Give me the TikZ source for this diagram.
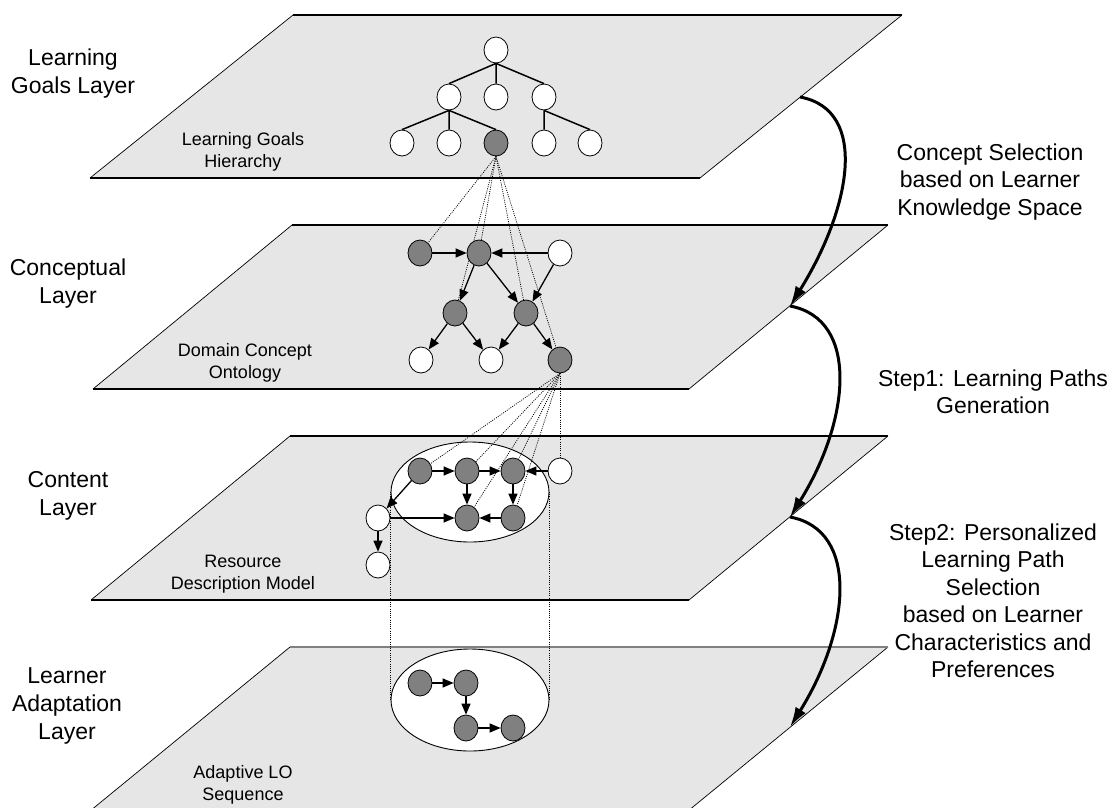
\documentclass[tikz,border=0pt]{standalone}
\usepackage{fontspec}
\setmainfont{Liberation Sans}
\usetikzlibrary{shapes.geometric,arrows.meta}
\definecolor{layerfill}{RGB}{230,230,230}
\definecolor{nodegray}{RGB}{128,128,128}
\pgfdeclarelayer{back}
\pgfdeclarelayer{mid}
\pgfsetlayers{back,mid,main}
\begin{document}
\begin{tikzpicture}[x=1pt,y=-1pt,
  planefill/.style={fill=layerfill},
  planeside/.style={line width=0.7pt},
  planeedge/.style={line width=1.3pt},
  goal/.style={ellipse,draw,line width=0.8pt,fill=white,minimum width=24pt,minimum height=26pt,inner sep=0pt},
  hot/.style={goal,fill=nodegray},
  tree/.style={line width=1.5pt},
  link/.style={line width=1.3pt,-{Triangle[length=11pt,width=9pt]}},
  trace/.style={line width=0.75pt,dash pattern=on 1pt off 1.2pt},
  group/.style={ellipse,draw,line width=0.9pt,fill=white,inner sep=0pt},
  flow/.style={line width=3pt,-{Latex[length=20pt,width=12pt]}},
  biglabel/.style={font=\fontsize{23}{28}\selectfont,align=center,inner sep=0pt},
  sidelabel/.style={font=\fontsize{23}{27.5}\selectfont,align=center,inner sep=0pt},
  smalllabel/.style={font=\fontsize{18}{22}\selectfont,align=center,inner sep=0pt}
]
\useasboundingbox (0,0) rectangle (1112,807);

% ---- the four planes ----
\coordinate (p1a) at (293,15);  \coordinate (p1b) at (902,15);
\coordinate (p1c) at (700,178); \coordinate (p1d) at (90,178);
\coordinate (p2a) at (292,225); \coordinate (p2b) at (888,225);
\coordinate (p2c) at (689,389); \coordinate (p2d) at (93,389);
\coordinate (p3a) at (290,436); \coordinate (p3b) at (888,436);
\coordinate (p3c) at (689,600); \coordinate (p3d) at (91,600);
\coordinate (p4a) at (290,647); \coordinate (p4b) at (888,647);
\coordinate (p4c) at (688,811); \coordinate (p4d) at (90,811);

\begin{pgfonlayer}{back}
\foreach \k in {1,2,3}{
  \fill[planefill] (p\k a) -- (p\k b) -- (p\k c) -- (p\k d) -- cycle;
  \draw[planeside] (p\k a) -- (p\k d) (p\k b) -- (p\k c);
  \draw[planeedge] (p\k a) -- (p\k b) (p\k d) -- (p\k c);
}
\fill[planefill] (p4a) -- (p4b) -- (p4c) -- (p4d) -- cycle;
\draw[planeside] (p4a) -- (p4d) (p4b) -- (p4c);
\draw[planeedge,draw=nodegray] (p4a) -- (p4b);

% groups of learning objects
\node[group,minimum width=158pt,minimum height=100pt] (E3) at (470,492) {};
\node[group,minimum width=158pt,minimum height=102pt] (E4) at (470,700) {};
\end{pgfonlayer}

% ---- labels ----
\node[biglabel] (lab1) at (73,74) {Learning\\Goals Layer};
\node[biglabel] (lab2) at (68,284) {Conceptual\\Layer};
\node[biglabel] (lab3) at (68,496) {Content\\Layer};
\node[biglabel] (lab4) at (67,706) {Learner\\Adaptation\\Layer};

\node[smalllabel] (sub1) at (243,152) {Learning Goals\\Hierarchy};
\node[smalllabel] (sub2) at (245,363) {Domain Concept\\Ontology};
\node[smalllabel] (sub3) at (243,574) {Resource\\Description Model};
\node[smalllabel] (sub4) at (243,785) {Adaptive LO\\Sequence};

\node[sidelabel] (step0) at (990,182) {Concept Selection\\based on Learner\\Knowledge Space};
\node[sidelabel] (step1) at (993,392) {Step1: Learning Paths\\Generation};
\node[sidelabel] (step2) at (993,601) {Step2: Personalized\\Learning Path\\Selection\\based on Learner\\Characteristics and\\Preferences};

% ---- learning goals hierarchy ----
\node[goal] (g0) at (496,50) {};
\node[goal] (g1) at (449,97) {};
\node[goal] (g2) at (496,97) {};
\node[goal] (g3) at (544,97) {};
\node[goal] (g4) at (402,143) {};
\node[goal] (g5) at (449,143) {};
\node[hot]  (g6) at (496,143) {};
\node[goal] (g7) at (544,143) {};
\node[goal] (g8) at (590,143) {};
\draw[tree] (g0.south) -- (g1.north) (g0.south) -- (g2.north) (g0.south) -- (g3.north);
\draw[tree] (g1.south) -- (g4.north) (g1.south) -- (g5.north) (g1.south) -- (g6.north);
\draw[tree] (g3.south) -- (g7.north) (g3.south) -- (g8.north);

% ---- domain concept ontology ----
\node[hot]  (c1) at (420,253) {};
\node[hot]  (c2) at (479,253) {};
\node[goal] (c3) at (560,253) {};
\node[hot]  (c4) at (455,313) {};
\node[hot]  (c5) at (526,313) {};
\node[goal] (c6) at (421,360) {};
\node[goal] (c7) at (491,360) {};
\node[hot]  (c8) at (560,360) {};
\draw[link] (c1) -- (c2);
\draw[link] (c3) -- (c2);
\draw[link] (c2) -- (c4);
\draw[link] (c2) -- (c5);
\draw[link] (c3) -- (c5);
\draw[link] (c4) -- (c6);
\draw[link] (c4) -- (c7);
\draw[link] (c5) -- (c7);
\draw[link] (c5) -- (c8);

% ---- resource description model ----
\node[hot]  (e1) at (420,471) {};
\node[hot]  (e2) at (467,471) {};
\node[hot]  (e3) at (513,471) {};
\node[goal] (e4) at (560,471) {};
\node[goal] (e5) at (378,518) {};
\node[hot]  (e6) at (467,518) {};
\node[hot]  (e7) at (513,518) {};
\node[goal] (e8) at (378,565) {};
\draw[link] (e1) -- (e2);
\draw[link] (e2) -- (e3);
\draw[link] (e4) -- (e3);
\draw[link] (e2) -- (e6);
\draw[link] (e3) -- (e7);
\draw[link] (e7) -- (e6);
\draw[link] (e5) -- (e6);
\draw[link] (e1) -- (e5);
\draw[link] (e5) -- (e8);

% ---- adaptive sequence ----
\node[hot] (f1) at (420,683) {};
\node[hot] (f2) at (466,683) {};
\node[hot] (f3) at (466,728) {};
\node[hot] (f4) at (513,728) {};
\draw[link] (f1) -- (f2);
\draw[link] (f2) -- (f3);
\draw[link] (f3) -- (f4);

% ---- mappings between planes ----
\begin{pgfonlayer}{mid}
\foreach \t in {c1,c2,c4,c5,c8}{ \draw[trace] (g6.south) -- (\t); }
\foreach \t in {e1,e2,e3,e4,e6,e7}{ \draw[trace] (c8.south) -- (\t); }
\draw[trace] (E3.west) -- (E4.west);
\draw[trace] (E3.east) -- (E4.east);
\end{pgfonlayer}

% ---- process arrows ----
\coordinate (s0) at (800,97);
\coordinate (s1) at (790,306);
\coordinate (s2) at (790,517);
\coordinate (s3) at (790,727);
\draw[flow] (s0) .. controls +(70,13) and +(60,-96) .. (s1);
\draw[flow] (s1) .. controls +(70,13) and +(60,-96) .. (s2);
\draw[flow] (s2) .. controls +(70,13) and +(60,-96) .. (s3);
\end{tikzpicture}
\end{document}
